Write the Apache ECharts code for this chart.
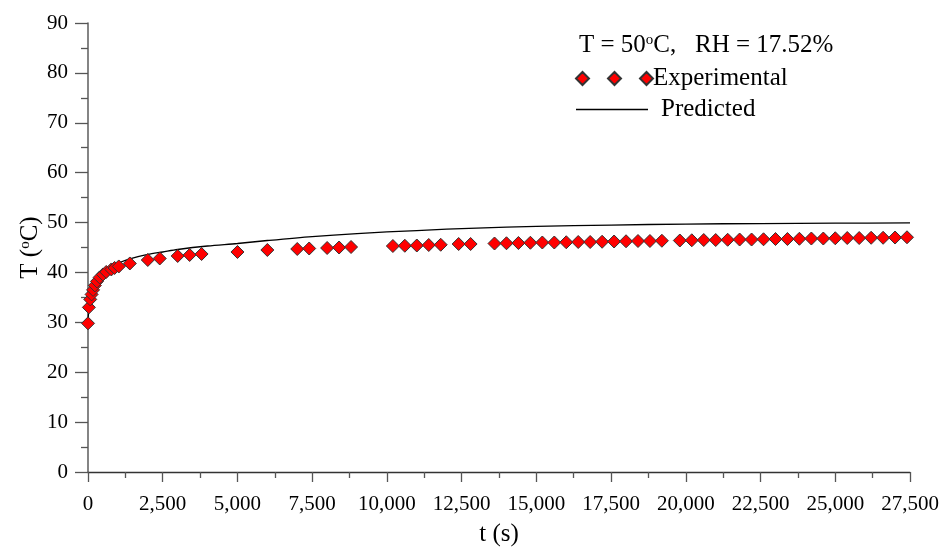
<!DOCTYPE html>
<html>
<head>
<meta charset="utf-8">
<script src="https://cdn.jsdelivr.net/npm/echarts@6/dist/echarts.min.js"></script>
<style>html,body{margin:0;padding:0;background:#fff;}#chart{width:946px;height:552px;}</style>
</head>
<body>
<div id="chart"></div>
<script>
// Experimental data: time (s) and temperature (°C)
var expTime = [0, 30, 75, 120, 170, 230, 300, 390, 500, 610, 780, 890, 1030, 1400,
  2000, 2400, 3000, 3400, 3800, 5000, 6000, 7000, 7400, 8000, 8400, 8800,
  10200, 10600, 11000, 11400, 11800, 12400, 12800,
  13600, 14000, 14400, 14800, 15200, 15600, 16000, 16400, 16800, 17200, 17600, 18000, 18400, 18800, 19200,
  19800, 20200, 20600, 21000, 21400, 21800, 22200, 22600, 23000, 23400, 23800, 24200, 24600, 25000, 25400, 25800, 26200, 26600, 27000, 27400];
var expTemp = [29.8, 33.0, 34.6, 35.6, 36.5, 37.4, 38.2, 39.0, 39.6, 40.1, 40.6, 40.9, 41.2, 41.8,
  42.5, 42.8, 43.3, 43.5, 43.7, 44.1, 44.5, 44.7, 44.8, 44.9, 45.0, 45.1,
  45.3, 45.35, 45.4, 45.5, 45.55, 45.7, 45.7,
  45.8, 45.85, 45.9, 45.95, 46.0, 46.0, 46.05, 46.1, 46.1, 46.15, 46.2, 46.25, 46.3, 46.3, 46.35,
  46.4, 46.45, 46.5, 46.5, 46.55, 46.6, 46.6, 46.65, 46.7, 46.7, 46.75, 46.8, 46.8, 46.85, 46.9, 46.9, 46.95, 46.95, 47.0, 47.05];
// Predicted curve
var predTime = [0, 25, 50, 100, 150, 200, 300, 400, 500, 700, 1000, 1400, 2000, 2500, 3000, 4000, 5000, 6000, 7500, 9000, 11000, 13000, 15000, 17500, 20000, 22500, 25000, 27500];
var predTemp = [30.0, 32.5, 33.8, 35.4, 36.4, 37.2, 38.4, 39.2, 39.9, 40.8, 41.8, 42.7, 43.6, 44.1, 44.6, 45.3, 45.8, 46.4, 47.2, 47.8, 48.4, 48.9, 49.25, 49.5, 49.7, 49.8, 49.87, 49.92];
var xTicks = {min: 0, max: 27500, interval: 2500};
var yTicks = {min: 0, max: 90, interval: 10};

var FONT = '"Liberation Serif", "Times New Roman", serif';
var expData = expTime.map(function (t, i) { return [t, expTemp[i]]; });
var predData = predTime.map(function (t, i) { return [t, predTemp[i]]; });

var chart = echarts.init(document.getElementById('chart'), null, {renderer: 'canvas'});
var diamonds = 'path://M0 6.5L6.5 0L13 6.5L6.5 13Z M32 6.5L38.5 0L45 6.5L38.5 13Z M64 6.5L70.5 0L77 6.5L70.5 13Z';
chart.setOption({
  animation: false,
  backgroundColor: '#fff',
  title: {
    text: 'T = 50{sup|o}C,   RH = 17.52%',
    left: 574, top: 28,
    textStyle: {
      fontFamily: FONT, fontSize: 25, fontWeight: 'normal', color: '#000',
      rich: {
        sup: {fontFamily: FONT, fontSize: 15, color: '#000', verticalAlign: 'top', padding: [0, 0, 10, 0]}
      }
    }
  },
  legend: [{
    data: [{name: 'Experimental', icon: diamonds}],
    left: 575, top: 66, itemWidth: 77, itemHeight: 13, padding: 0,
    textStyle: {fontFamily: FONT, fontSize: 25, color: '#000', padding: [0, 0, 0, -5]}
  }, {
    data: [{name: 'Predicted', icon: 'rect'}],
    left: 576, top: 97, itemWidth: 72, itemHeight: 1.3, padding: 0,
    textStyle: {fontFamily: FONT, fontSize: 25, color: '#000', padding: [0, 0, 0, 8]}
  }],
  grid: {left: 88, right: 36, top: 23, bottom: 80, containLabel: false},
  xAxis: {
    type: 'value', min: xTicks.min, max: xTicks.max, interval: xTicks.interval,
    name: 't (s)', nameLocation: 'middle', nameGap: 50,
    nameTextStyle: {fontFamily: FONT, fontSize: 25, color: '#000'},
    axisLine: {show: true, onZero: false, lineStyle: {color: '#333', width: 1.3}},
    axisTick: {show: true, inside: false, length: 10, lineStyle: {color: '#555', width: 1.3}},
    minorTick: {show: true, splitNumber: 2, length: 6, lineStyle: {color: '#555', width: 1.3}},
    splitLine: {show: false},
    axisLabel: {
      fontFamily: FONT, fontSize: 21, color: '#000', margin: 22,
      formatter: function (v) { return String(v).replace(/\B(?=(\d{3})+(?!\d))/g, ','); }
    }
  },
  yAxis: {
    type: 'value', min: yTicks.min, max: yTicks.max, interval: yTicks.interval,
    name: 'T ({sup|o}C)', nameLocation: 'middle', nameGap: 45, nameRotate: 90,
    nameMoveOverlap: false,
    nameTextStyle: {
      fontFamily: FONT, fontSize: 25, color: '#000',
      rich: {sup: {fontFamily: FONT, fontSize: 15, color: '#000', verticalAlign: 'top', padding: [0, 0, 10, 0]}}
    },
    axisLine: {show: true, onZero: false, lineStyle: {color: '#666', width: 1.6}},
    axisTick: {show: true, inside: false, length: 13, lineStyle: {color: '#555', width: 1.3}},
    minorTick: {show: true, splitNumber: 2, length: 7, lineStyle: {color: '#555', width: 1.3}},
    splitLine: {show: false},
    axisLabel: {fontFamily: FONT, fontSize: 21, color: '#000', margin: 20}
  },
  series: [{
    name: 'Predicted', type: 'line', data: predData, smooth: 0.3,
    showSymbol: false, symbol: 'none',
    lineStyle: {color: '#000', width: 1.3}, itemStyle: {color: '#000'},
    z: 2
  }, {
    name: 'Experimental', type: 'scatter', data: expData,
    symbol: 'diamond', symbolSize: 13,
    itemStyle: {color: '#ff0000', borderColor: '#333', borderWidth: 1, opacity: 1},
    z: 3
  }]
});
</script>
</body>
</html>
